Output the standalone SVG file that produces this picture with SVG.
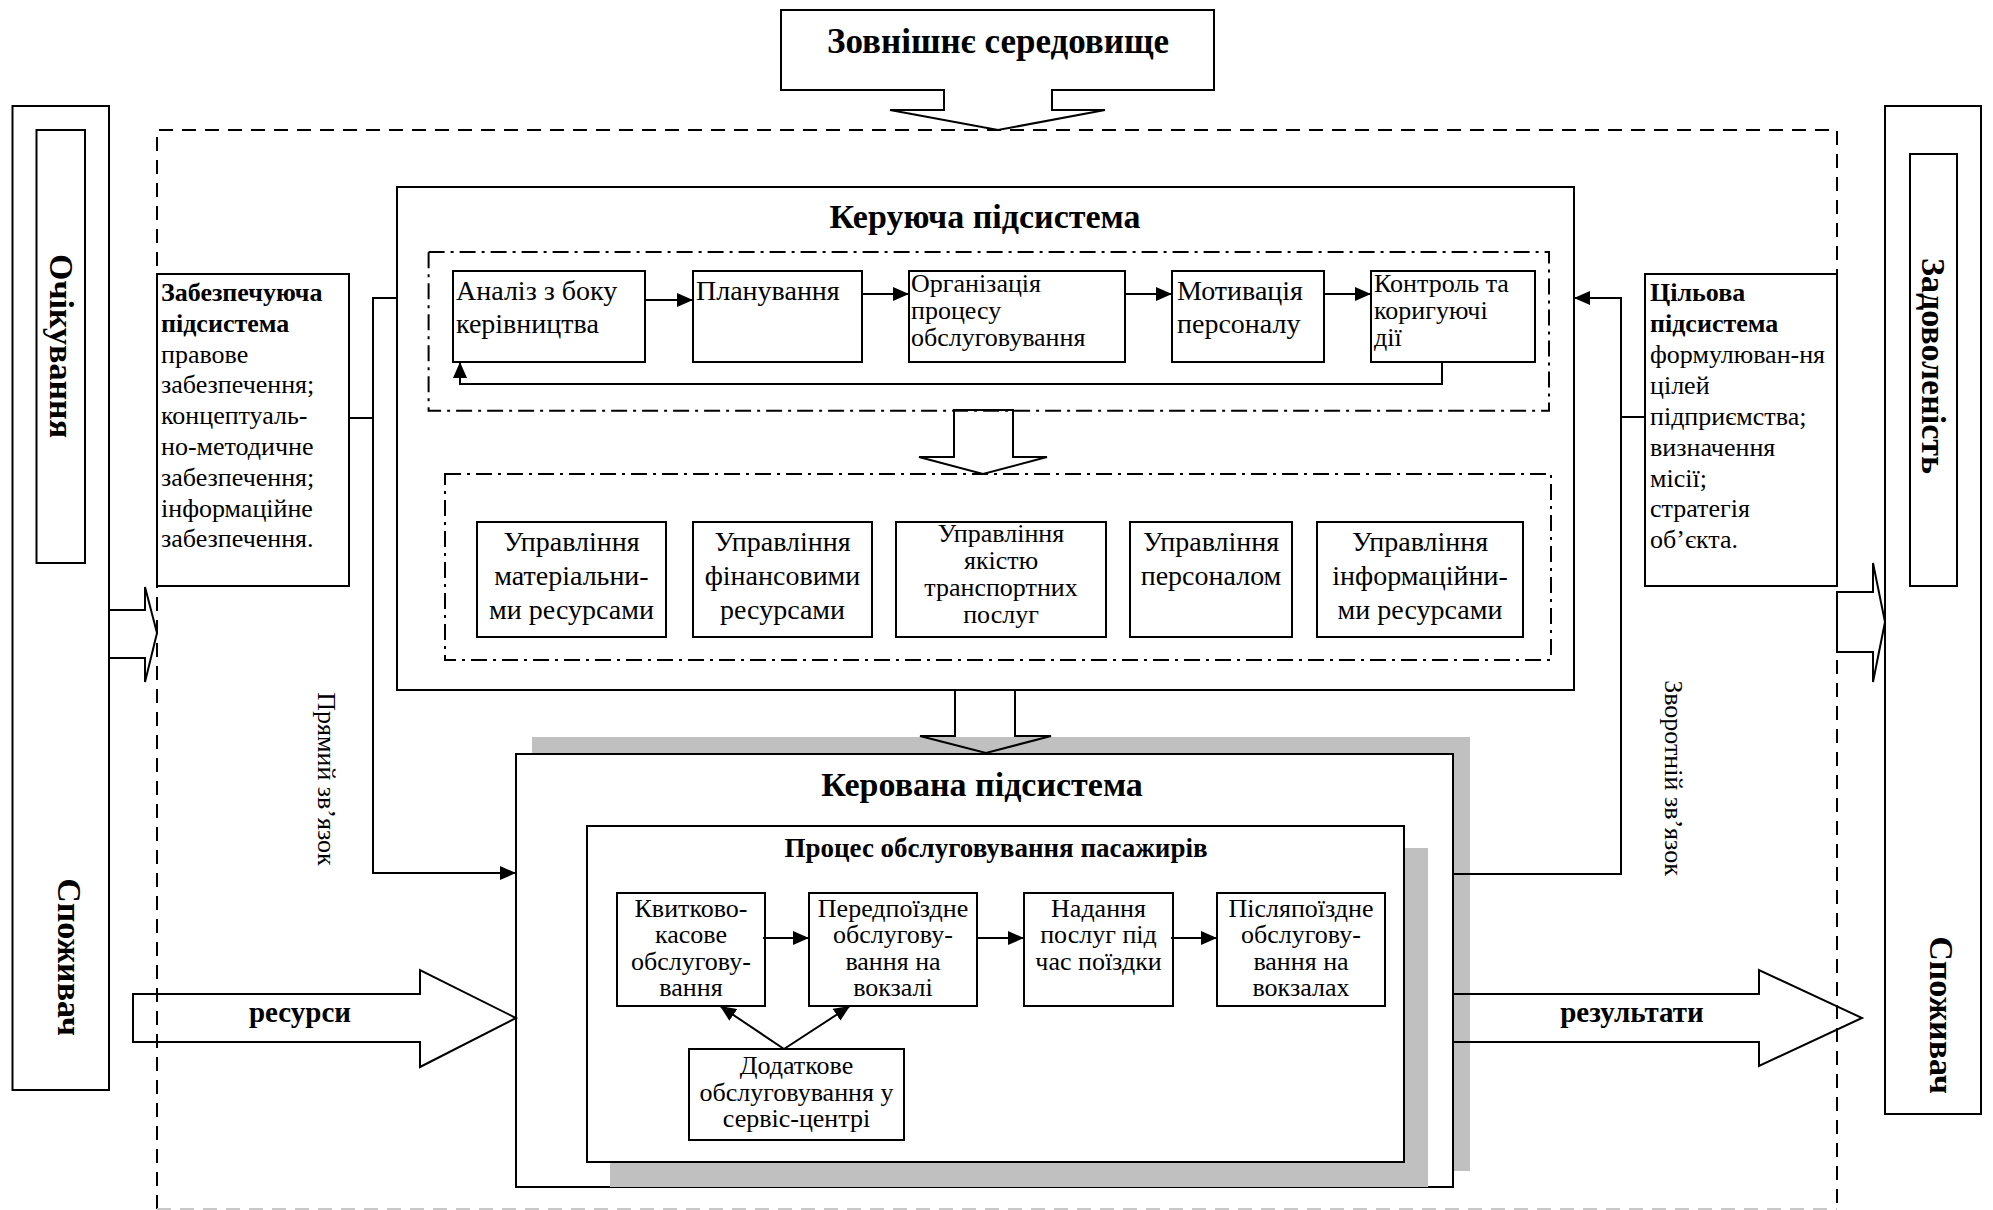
<svg xmlns="http://www.w3.org/2000/svg" width="1993" height="1210" viewBox="0 0 1993 1210">
<defs>
<style>
.bx{fill:#fff;stroke:#000;stroke-width:2}
.ln{fill:none;stroke:#000;stroke-width:2}
.ha{fill:#fff;stroke:#000;stroke-width:2;stroke-linejoin:miter}
.hn{fill:none;stroke:#000;stroke-width:2}
.dash{fill:none;stroke:#000;stroke-width:2;stroke-dasharray:14 9}
.dd{fill:none;stroke:#000;stroke-width:2;stroke-dasharray:16 6 3 6}
.sh{fill:#c0c0c0}
text{font-family:'Liberation Serif','Times New Roman',serif;fill:#000}
.b{font-weight:bold}
.c{text-anchor:middle}
.r{dominant-baseline:central;text-anchor:middle}
.f26{font-size:26px}
.f28{font-size:28px}
.f34{font-size:34px}
</style>
<marker id="ah" markerWidth="16" markerHeight="14" refX="16" refY="7" orient="auto" markerUnits="userSpaceOnUse"><path d="M0,0 L16,7 L0,14 z" fill="#000"/></marker>
</defs>
<rect x="0" y="0" width="1993" height="1210" fill="#fff"/>

<g id="system-boundary">
<path class="dash" d="M157,1209 L157,130 L1837,130 L1837,1209"/>
<line x1="157" y1="1209" x2="1837" y2="1209" stroke="#c8c8c8" stroke-width="2" stroke-dasharray="14 9"/>
</g>

<g id="external">
<path class="bx" d="M781,10 L1214,10 L1214,90 L1052,90 L1052,110 L1105,110 L998,130 L890,110 L944,110 L944,90 L781,90 Z"/>
<text class="b c" x="998" y="53" style="font-size:35px">Зовнішнє середовище</text>
</g>

<g id="left-consumer">
<rect class="bx" x="12.5" y="106" width="96.5" height="984"/>
<rect class="bx" x="36.5" y="130" width="48.5" height="433"/>
<text class="b r" x="61" y="346" style="font-size:34px" transform="rotate(90 61 346)">Очікування</text>
<text class="b r" x="69" y="957" style="font-size:34px" transform="rotate(90 69 957)">Споживач</text>
</g>

<g id="right-consumer">
<rect class="bx" x="1885" y="106" width="96" height="1008"/>
<rect class="bx" x="1910" y="154" width="47" height="432"/>
<text class="b r" x="1933" y="366" style="font-size:34px" transform="rotate(90 1933 366)">Задоволеність</text>
<text class="b r" x="1941" y="1015" style="font-size:34px" transform="rotate(90 1941 1015)">Споживач</text>
</g>

<g id="support-subsystem">
<rect class="bx" x="157" y="274" width="192" height="312"/>
<text class="f26" x="161">
<tspan class="b" x="161" y="301">Забезпечуюча</tspan>
<tspan class="b" x="161" y="332">підсистема</tspan>
<tspan x="161" y="363">правове</tspan>
<tspan x="161" y="393">забезпечення;</tspan>
<tspan x="161" y="424">концептуаль-</tspan>
<tspan x="161" y="455">но-методичне</tspan>
<tspan x="161" y="486">забезпечення;</tspan>
<tspan x="161" y="517">інформаційне</tspan>
<tspan x="161" y="547">забезпечення.</tspan>
</text>
</g>

<g id="target-subsystem">
<rect class="bx" x="1645" y="274" width="192" height="312"/>
<text class="f26" x="1650">
<tspan class="b" x="1650" y="301">Цільова</tspan>
<tspan class="b" x="1650" y="332">підсистема</tspan>
<tspan x="1650" y="363">формулюван-ня</tspan>
<tspan x="1650" y="394">цілей</tspan>
<tspan x="1650" y="425">підприємства;</tspan>
<tspan x="1650" y="456">визначення</tspan>
<tspan x="1650" y="487">місії;</tspan>
<tspan x="1650" y="517">стратегія</tspan>
<tspan x="1650" y="548">об’єкта.</tspan>
</text>
</g>

<g id="control-subsystem">
<rect class="bx" x="397" y="187" width="1177" height="503"/>
<text class="b c f34" x="985" y="228">Керуюча підсистема</text>
<rect class="dd" x="428.6" y="252" width="1120.4" height="158.7"/>
<rect class="dd" x="445" y="474" width="1106" height="186"/>
</g>

<g id="analysis">
<rect class="bx" x="453" y="271" width="192" height="91"/>
<text class="f28"><tspan x="456" y="300">Аналіз з боку</tspan><tspan x="456" y="333">керівництва</tspan></text>
</g>
<g id="planning">
<rect class="bx" x="693" y="271" width="169" height="91"/>
<text class="f28" x="696" y="300">Планування</text>
</g>
<g id="organization">
<rect class="bx" x="909" y="271" width="216" height="91"/>
<text class="f26"><tspan x="911" y="292">Організація</tspan><tspan x="911" y="319">процесу</tspan><tspan x="911" y="346">обслуговування</tspan></text>
</g>
<g id="motivation">
<rect class="bx" x="1172" y="271" width="152" height="91"/>
<text class="f28"><tspan x="1177" y="300">Мотивація</tspan><tspan x="1177" y="333">персоналу</tspan></text>
</g>
<g id="control">
<rect class="bx" x="1371" y="271" width="164" height="91"/>
<text class="f26"><tspan x="1374" y="292">Контроль та</tspan><tspan x="1374" y="319">коригуючі</tspan><tspan x="1374" y="346">дії</tspan></text>
</g>

<g id="mgmt-material">
<rect class="bx" x="477" y="522" width="189" height="115"/>
<text class="f28 c"><tspan x="571.5" y="551">Управління</tspan><tspan x="571.5" y="585">матеріальни-</tspan><tspan x="571.5" y="619">ми ресурсами</tspan></text>
</g>
<g id="mgmt-finance">
<rect class="bx" x="693" y="522" width="179" height="115"/>
<text class="f28 c"><tspan x="782.5" y="551">Управління</tspan><tspan x="782.5" y="585">фінансовими</tspan><tspan x="782.5" y="619">ресурсами</tspan></text>
</g>
<g id="mgmt-quality">
<rect class="bx" x="896" y="522" width="210" height="115"/>
<text class="f26 c"><tspan x="1001" y="542">Управління</tspan><tspan x="1001" y="569">якістю</tspan><tspan x="1001" y="596">транспортних</tspan><tspan x="1001" y="623">послуг</tspan></text>
</g>
<g id="mgmt-personnel">
<rect class="bx" x="1130" y="522" width="162" height="115"/>
<text class="f28 c"><tspan x="1211" y="551">Управління</tspan><tspan x="1211" y="585">персоналом</tspan></text>
</g>
<g id="mgmt-info">
<rect class="bx" x="1317" y="522" width="206" height="115"/>
<text class="f28 c"><tspan x="1420" y="551">Управління</tspan><tspan x="1420" y="585">інформаційни-</tspan><tspan x="1420" y="619">ми ресурсами</tspan></text>
</g>

<g id="managed-subsystem">
<rect class="sh" x="532" y="737" width="938" height="434"/>
<rect class="bx" x="516" y="754" width="937" height="433"/>
<text class="b c f34" x="982" y="796">Керована підсистема</text>
<rect class="sh" x="610" y="848" width="818" height="339"/>
<rect class="bx" x="587" y="826" width="817" height="336"/>
<text class="b c" x="996" y="857" style="font-size:27px">Процес обслуговування пасажирів</text>
</g>

<g id="ticketing">
<rect class="bx" x="617" y="893" width="148" height="113"/>
<text class="f26 c"><tspan x="691" y="917">Квитково-</tspan><tspan x="691" y="943">касове</tspan><tspan x="691" y="970">обслугову-</tspan><tspan x="691" y="996">вання</tspan></text>
</g>
<g id="pre-trip">
<rect class="bx" x="809" y="893" width="168" height="113"/>
<text class="f26 c"><tspan x="893" y="917">Передпоїздне</tspan><tspan x="893" y="943">обслугову-</tspan><tspan x="893" y="970">вання на</tspan><tspan x="893" y="996">вокзалі</tspan></text>
</g>
<g id="on-trip">
<rect class="bx" x="1024" y="893" width="149" height="113"/>
<text class="f26 c"><tspan x="1098.5" y="917">Надання</tspan><tspan x="1098.5" y="943">послуг під</tspan><tspan x="1098.5" y="970">час поїздки</tspan></text>
</g>
<g id="post-trip">
<rect class="bx" x="1217" y="893" width="168" height="113"/>
<text class="f26 c"><tspan x="1301" y="917">Післяпоїздне</tspan><tspan x="1301" y="943">обслугову-</tspan><tspan x="1301" y="970">вання на</tspan><tspan x="1301" y="996">вокзалах</tspan></text>
</g>
<g id="service-center">
<rect class="bx" x="689" y="1049" width="215" height="91"/>
<text class="f26 c"><tspan x="796.5" y="1074">Додаткове</tspan><tspan x="796.5" y="1101">обслуговування у</tspan><tspan x="796.5" y="1127">сервіс-центрі</tspan></text>
</g>

<g id="connectors">
<polygon class="ha" points="109,610 145,610 145,587 157,633 145,682 145,658 109,658"/>
<polygon class="ha" points="1837,592 1873,592 1873,563 1885,622 1873,682 1873,652 1837,652"/>
<polygon class="hn" points="954,410 954,457 919,457 983,474 1047,457 1013,457 1013,410"/>
<polygon class="hn" points="955,690 955,736 920,736 986,753 1051,736 1015,736 1015,690"/>
<polygon class="hn" points="133,994 420,994 420,970 516,1018 420,1067 420,1042 133,1042"/>
<polygon class="hn" points="1453,994 1759,994 1759,970 1862,1018 1759,1066 1759,1042 1453,1042"/>
<polyline class="ln" points="397,298 373,298 373,873 516,873" marker-end="url(#ah)"/>
<line class="ln" x1="349" y1="418" x2="373" y2="418"/>
<polyline class="ln" points="1453,874 1621,874 1621,298 1574,298" marker-end="url(#ah)"/>
<line class="ln" x1="1621" y1="417" x2="1645" y2="417"/>
<line class="ln" x1="645" y1="300" x2="693" y2="300" marker-end="url(#ah)"/>
<line class="ln" x1="862" y1="294" x2="909" y2="294" marker-end="url(#ah)"/>
<line class="ln" x1="1125" y1="294" x2="1172" y2="294" marker-end="url(#ah)"/>
<line class="ln" x1="1324" y1="294" x2="1371" y2="294" marker-end="url(#ah)"/>
<polyline class="ln" points="1442,362 1442,384 460,384 460,362" marker-end="url(#ah)"/>
<line class="ln" x1="763" y1="938" x2="809" y2="938" marker-end="url(#ah)"/>
<line class="ln" x1="977" y1="938" x2="1024" y2="938" marker-end="url(#ah)"/>
<line class="ln" x1="1171" y1="938" x2="1217" y2="938" marker-end="url(#ah)"/>
<line class="ln" x1="784" y1="1049" x2="720" y2="1006" marker-end="url(#ah)"/>
<line class="ln" x1="784" y1="1049" x2="850" y2="1006" marker-end="url(#ah)"/>
<text class="b c" x="300" y="1022" style="font-size:29px">ресурси</text>
<text class="b c" x="1632" y="1022" style="font-size:29px">результати</text>
<text class="r f26" x="326" y="779" transform="rotate(90 326 779)">Прямий зв’язок</text>
<text class="r f26" x="1673" y="778" transform="rotate(90 1673 778)">Зворотній зв’язок</text>
</g>
</svg>
